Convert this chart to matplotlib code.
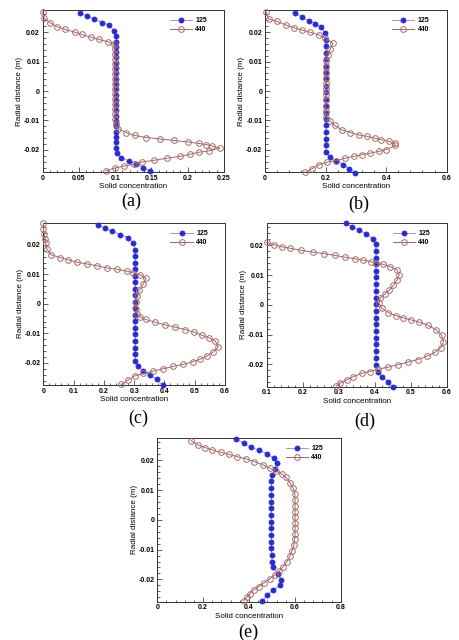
import matplotlib
matplotlib.use('Agg')
import matplotlib.pyplot as plt
from matplotlib.ticker import MultipleLocator, FixedLocator, FixedFormatter

plt.rcParams['font.family'] = ['Liberation Sans', 'DejaVu Sans']

# ---------------- data ----------------
series_names = ['125', '440']
y_ticks = [-0.02, -0.01, 0.0, 0.01, 0.02]
y_ticklabels = ['-0.02', '-0.01', '0', '0.01', '0.02']

# panel (a)
a_y125 = [0.0265, 0.0254, 0.0245, 0.0232, 0.0223, 0.0203, 0.0186, 0.0168, 0.0150, 0.0132,
          0.0114, 0.0096, 0.0078, 0.0060, 0.0042, 0.0024, 0.0006, -0.0012, -0.0030, -0.0048,
          -0.0066, -0.0084, -0.0102, -0.0120, -0.0138, -0.0156, -0.0174, -0.0192, -0.0209, -0.0226,
          -0.0238, -0.0249, -0.0260, -0.0271]
a_c125 = [0.052, 0.061, 0.071, 0.082, 0.092, 0.099, 0.101, 0.101, 0.101, 0.101,
          0.101, 0.101, 0.101, 0.101, 0.101, 0.101, 0.101, 0.101, 0.101, 0.101,
          0.101, 0.101, 0.101, 0.101, 0.101, 0.101, 0.101, 0.101, 0.102, 0.108,
          0.119, 0.129, 0.138, 0.148]
a_y440 = [0.0268, 0.0248, 0.0232, 0.0218, 0.0209, 0.0200, 0.0192, 0.0183, 0.0175, 0.0167,
          0.0158, 0.0142, 0.0125, 0.0108, 0.0091, 0.0074, 0.0057, 0.0040, 0.0023, 0.0006,
          -0.0011, -0.0028, -0.0045, -0.0062, -0.0079, -0.0096, -0.0113, -0.0128, -0.0141, -0.0151,
          -0.0158, -0.0163, -0.0168, -0.0173, -0.0178, -0.0182, -0.0187, -0.0194, -0.0203, -0.0208,
          -0.0215, -0.0222, -0.0228, -0.0235, -0.0241, -0.0249, -0.0255, -0.0261, -0.0271]
a_c440 = [0.000, 0.002, 0.010, 0.020, 0.031, 0.044, 0.054, 0.066, 0.078, 0.090,
          0.098, 0.100, 0.100, 0.100, 0.100, 0.100, 0.100, 0.100, 0.100, 0.100,
          0.100, 0.100, 0.100, 0.100, 0.100, 0.100, 0.101, 0.104, 0.115, 0.127,
          0.143, 0.162, 0.181, 0.200, 0.215, 0.225, 0.234, 0.244, 0.230, 0.215,
          0.203, 0.189, 0.172, 0.154, 0.137, 0.126, 0.112, 0.100, 0.087]
a_xticks = [0, 0.05, 0.1, 0.15, 0.2, 0.25]
a_xticklabels = ['0', '0.05', '0.1', '0.15', '0.2', '0.25']

# panel (b)
b_y125 = [0.0266, 0.0250, 0.0239, 0.0228, 0.0216, 0.0196, 0.0174, 0.0152, 0.0129, 0.0107,
          0.0084, 0.0062, 0.0040, 0.0017, -0.0005, -0.0028, -0.0050, -0.0073, -0.0095, -0.0117,
          -0.0140, -0.0162, -0.0185, -0.0207, -0.0225, -0.0236, -0.0250, -0.0264, -0.0277]
b_c125 = [0.099, 0.122, 0.144, 0.166, 0.186, 0.199, 0.201, 0.201, 0.201, 0.201,
          0.201, 0.201, 0.201, 0.201, 0.201, 0.201, 0.201, 0.201, 0.201, 0.201,
          0.201, 0.201, 0.201, 0.201, 0.214, 0.234, 0.259, 0.279, 0.298]
b_y440 = [0.0269, 0.0245, 0.0236, 0.0224, 0.0215, 0.0207, 0.0199, 0.0191, 0.0179, 0.0162,
          0.0142, 0.0121, 0.0102, 0.0083, 0.0064, 0.0045, 0.0026, 0.0007, -0.0012, -0.0031,
          -0.0050, -0.0069, -0.0088, -0.0103, -0.0117, -0.0132, -0.0141, -0.0149, -0.0154, -0.0160,
          -0.0165, -0.0171, -0.0177, -0.0185, -0.0199, -0.0205, -0.0211, -0.0216, -0.0222, -0.0228,
          -0.0236, -0.0242, -0.0250, -0.0264, -0.0276]
b_c440 = [0.003, 0.012, 0.040, 0.069, 0.095, 0.122, 0.150, 0.177, 0.199, 0.224,
          0.215, 0.208, 0.203, 0.201, 0.201, 0.201, 0.201, 0.201, 0.201, 0.201,
          0.201, 0.201, 0.201, 0.216, 0.230, 0.254, 0.282, 0.309, 0.337, 0.362,
          0.384, 0.408, 0.428, 0.430, 0.400, 0.375, 0.348, 0.320, 0.293, 0.265,
          0.235, 0.205, 0.179, 0.155, 0.133]
b_xticks = [0, 0.2, 0.4, 0.6]
b_xticklabels = ['0', '0.2', '0.4', '0.6']

# panel (c)
c_y125 = [0.0268, 0.0256, 0.0246, 0.0235, 0.0224, 0.0207, 0.0184, 0.0162, 0.0140, 0.0118,
          0.0096, 0.0073, 0.0051, 0.0029, 0.0007, -0.0015, -0.0037, -0.0059, -0.0081, -0.0103,
          -0.0125, -0.0148, -0.0170, -0.0192, -0.0211, -0.0226, -0.0241, -0.0256, -0.0275]
c_c125 = [0.180, 0.204, 0.228, 0.254, 0.281, 0.296, 0.303, 0.303, 0.303, 0.303,
          0.303, 0.303, 0.303, 0.303, 0.303, 0.303, 0.303, 0.303, 0.303, 0.303,
          0.303, 0.303, 0.303, 0.303, 0.312, 0.328, 0.352, 0.374, 0.394]
c_y440 = [0.0273, 0.0255, 0.0237, 0.0221, 0.0206, 0.0187, 0.0167, 0.0157, 0.0149, 0.0141,
          0.0135, 0.0129, 0.0122, 0.0117, 0.0111, 0.0105, 0.0098, 0.0087, 0.0067, 0.0047,
          0.0026, 0.0005, -0.0016, -0.0033, -0.0044, -0.0053, -0.0062, -0.0071, -0.0079, -0.0087,
          -0.0096, -0.0106, -0.0115, -0.0126, -0.0145, -0.0163, -0.0177, -0.0188, -0.0196, -0.0205,
          -0.0212, -0.0220, -0.0228, -0.0236, -0.0244, -0.0258, -0.0273]
c_c440 = [0.000, 0.000, 0.003, 0.006, 0.008, 0.011, 0.024, 0.055, 0.083, 0.112,
          0.145, 0.178, 0.209, 0.244, 0.275, 0.297, 0.320, 0.339, 0.330, 0.317,
          0.309, 0.306, 0.306, 0.309, 0.318, 0.338, 0.368, 0.401, 0.435, 0.468,
          0.499, 0.523, 0.547, 0.568, 0.578, 0.561, 0.540, 0.518, 0.494, 0.462,
          0.429, 0.396, 0.363, 0.330, 0.302, 0.280, 0.258]
c_xticks = [0, 0.1, 0.2, 0.3, 0.4, 0.5, 0.6]
c_xticklabels = ['0', '0.1', '0.2', '0.3', '0.4', '0.5', '0.6']

# panel (d)
d_y125 = [0.0274, 0.0262, 0.0251, 0.0239, 0.0222, 0.0204, 0.0182, 0.0159, 0.0137, 0.0114,
          0.0092, 0.0069, 0.0047, 0.0024, 0.0002, -0.0021, -0.0043, -0.0066, -0.0088, -0.0111,
          -0.0133, -0.0156, -0.0178, -0.0201, -0.0224, -0.0241, -0.0258, -0.0275]
d_c125 = [0.319, 0.338, 0.356, 0.377, 0.395, 0.403, 0.403, 0.403, 0.403, 0.403,
          0.403, 0.403, 0.403, 0.403, 0.403, 0.403, 0.403, 0.403, 0.403, 0.403,
          0.403, 0.403, 0.403, 0.403, 0.409, 0.421, 0.437, 0.450]
d_y440 = [0.0210, 0.0202, 0.0195, 0.0190, 0.0183, 0.0177, 0.0172, 0.0166, 0.0160, 0.0155,
          0.0150, 0.0145, 0.0140, 0.0136, 0.0128, 0.0117, 0.0101, 0.0083, 0.0066, 0.0050,
          0.0036, 0.0023, 0.0005, -0.0012, -0.0026, -0.0036, -0.0044, -0.0051, -0.0058, -0.0068,
          -0.0083, -0.0102, -0.0125, -0.0144, -0.0159, -0.0173, -0.0184, -0.0192, -0.0201, -0.0209,
          -0.0216, -0.0224, -0.0230, -0.0241, -0.0252, -0.0263, -0.0272]
d_c440 = [0.100, 0.121, 0.143, 0.166, 0.196, 0.229, 0.259, 0.290, 0.318, 0.344,
          0.368, 0.389, 0.405, 0.424, 0.443, 0.462, 0.468, 0.462, 0.452, 0.441,
          0.428, 0.415, 0.412, 0.420, 0.438, 0.458, 0.480, 0.502, 0.524, 0.547,
          0.570, 0.586, 0.591, 0.583, 0.568, 0.544, 0.519, 0.493, 0.466, 0.438,
          0.410, 0.387, 0.364, 0.341, 0.322, 0.304, 0.293]
d_xticks = [0.1, 0.2, 0.3, 0.4, 0.5, 0.6]
d_xticklabels = ['0.1', '0.2', '0.3', '0.4', '0.5', '0.6']

# panel (e)
e_y125 = [0.0272, 0.0257, 0.0245, 0.0234, 0.0222, 0.0207, 0.0190, 0.0170, 0.0151, 0.0129,
          0.0106, 0.0084, 0.0061, 0.0039, 0.0017, -0.0006, -0.0028, -0.0050, -0.0073, -0.0095,
          -0.0117, -0.0140, -0.0160, -0.0181, -0.0201, -0.0220, -0.0236, -0.0252, -0.0272]
e_c125 = [0.343, 0.377, 0.407, 0.444, 0.478, 0.508, 0.522, 0.513, 0.502, 0.497,
          0.497, 0.497, 0.497, 0.497, 0.497, 0.497, 0.497, 0.497, 0.497, 0.497,
          0.499, 0.500, 0.505, 0.525, 0.541, 0.535, 0.506, 0.480, 0.458]
e_y440 = [0.0266, 0.0252, 0.0243, 0.0235, 0.0227, 0.0220, 0.0212, 0.0205, 0.0196, 0.0185,
          0.0173, 0.0164, 0.0154, 0.0143, 0.0125, 0.0106, 0.0087, 0.0067, 0.0048, 0.0028,
          0.0009, -0.0009, -0.0028, -0.0047, -0.0065, -0.0084, -0.0103, -0.0122, -0.0140, -0.0157,
          -0.0172, -0.0185, -0.0199, -0.0212, -0.0224, -0.0236, -0.0248, -0.0260, -0.0271]
e_c440 = [0.147, 0.176, 0.208, 0.240, 0.276, 0.313, 0.349, 0.386, 0.422, 0.460,
          0.492, 0.518, 0.543, 0.560, 0.579, 0.593, 0.600, 0.601, 0.601, 0.601,
          0.601, 0.601, 0.601, 0.601, 0.599, 0.596, 0.588, 0.578, 0.566, 0.550,
          0.532, 0.512, 0.490, 0.466, 0.442, 0.420, 0.404, 0.390, 0.378]
e_xticks = [0, 0.2, 0.4, 0.6, 0.8]
e_xticklabels = ['0', '0.2', '0.4', '0.6', '0.8']

panel_labels = ['(a)', '(b)', '(c)', '(d)', '(e)']

# ---------------- layout / style ----------------
W, H = 460, 640
fig = plt.figure(figsize=(W / 100, H / 100), dpi=100)
fig.patch.set_facecolor('white')

def rect(left, top, right, bottom):
    return [left / W, 1 - bottom / H, (right - left) / W, (bottom - top) / H]

panels = [
    dict(r=rect(42.7, 10, 224, 172), xlim=(0, 0.25), xt=a_xticks, xtl=a_xticklabels, xminor=0.01,
         y1=a_y125, c1=a_c125, y2=a_y440, c2=a_c440, lab=(131, 201)),
    dict(r=rect(265, 10, 446.7, 172), xlim=(0, 0.6), xt=b_xticks, xtl=b_xticklabels, xminor=0.04,
         y1=b_y125, c1=b_c125, y2=b_y440, c2=b_c440, lab=(359, 204)),
    dict(r=rect(43.3, 222.7, 225, 385), xlim=(0, 0.6), xt=c_xticks, xtl=c_xticklabels, xminor=0.02,
         y1=c_y125, c1=c_c125, y2=c_y440, c2=c_c440, lab=(138, 418)),
    dict(r=rect(266.7, 223, 446.7, 386.7), xlim=(0.1, 0.6), xt=d_xticks, xtl=d_xticklabels, xminor=0.02,
         y1=d_y125, c1=d_c125, y2=d_y440, c2=d_c440, lab=(365, 421)),
    dict(r=rect(157.3, 438, 340.7, 601.7), xlim=(0, 0.8), xt=e_xticks, xtl=e_xticklabels, xminor=0.04,
         y1=e_y125, c1=e_c125, y2=e_y440, c2=e_c440, lab=(248, 632)),
]

BLUE = '#2a2ad0'
BLUE_LINE = '#8c8ca8'
PINK = '#a86c6c'
PINK_LINE = '#9e6868'

for i, p in enumerate(panels):
    ax = fig.add_axes(p['r'])
    ax.plot(p['c1'], p['y1'], color=BLUE_LINE, lw=0.6, marker='o', ms=3.7,
            mfc=BLUE, mec=BLUE, mew=0.5, clip_on=False, zorder=3, label=series_names[0])
    ax.plot(p['c2'], p['y2'], color=PINK_LINE, lw=0.7, marker='o', ms=4.1,
            mfc='none', mec=PINK, mew=0.7, clip_on=False, zorder=4, label=series_names[1])
    ax.set_xlim(*p['xlim'])
    ax.set_ylim(-0.0275, 0.0275)
    ax.xaxis.set_major_locator(FixedLocator(p['xt']))
    ax.xaxis.set_major_formatter(FixedFormatter(p['xtl']))
    ax.xaxis.set_minor_locator(MultipleLocator(p['xminor']))
    ax.yaxis.set_major_locator(FixedLocator(y_ticks))
    ax.yaxis.set_major_formatter(FixedFormatter(y_ticklabels))
    ax.yaxis.set_minor_locator(MultipleLocator(0.002))
    ax.tick_params(which='both', direction='in', top=False, right=False, width=0.6, color='#444444')
    ax.tick_params(which='major', length=3.5, labelsize=5.0, pad=2)
    ax.tick_params(which='minor', length=1.8)
    for lbl in ax.get_xticklabels() + ax.get_yticklabels():
        lbl.set_fontweight('bold')
    for s in ax.spines.values():
        s.set_linewidth(0.7)
        s.set_color('#333333')
    ax.set_xlabel('Solid concentration', fontsize=5.8, labelpad=0.8)
    ax.set_ylabel('Radial distance (m)', fontsize=5.8, labelpad=0.5)
    leg = ax.legend(loc='upper left', bbox_to_anchor=(0.70, 0.955), frameon=False,
                    fontsize=5.0, handlelength=3.2, handletextpad=0.5, labelspacing=0.3,
                    borderpad=0, borderaxespad=0)
    for t in leg.get_texts():
        t.set_fontweight('bold')
    fig.text(p['lab'][0] / W, 1 - p['lab'][1] / H, panel_labels[i], ha='center', va='center',
             fontsize=13, family=['Liberation Serif', 'DejaVu Serif'])

fig.savefig('out.png', dpi=100, facecolor='white')
